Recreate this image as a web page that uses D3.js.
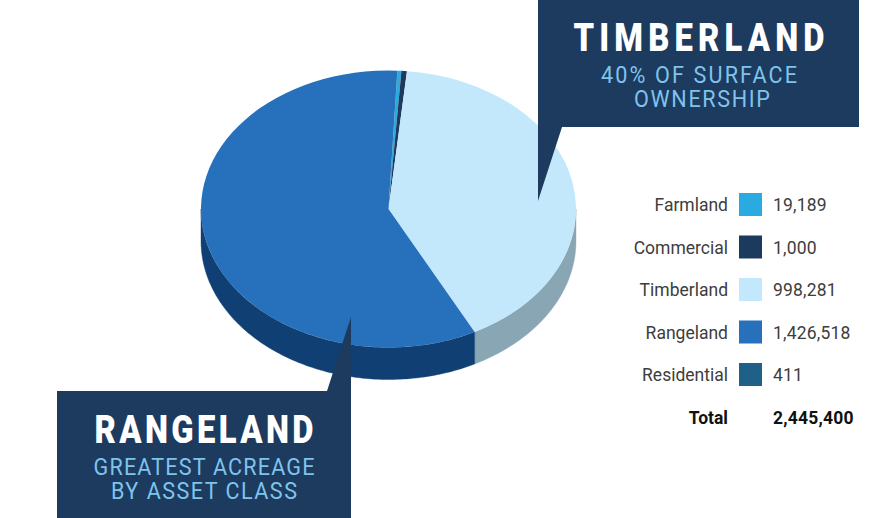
<!DOCTYPE html>
<html><head><meta charset="utf-8">
<script src="https://cdn.jsdelivr.net/npm/d3@7/dist/d3.min.js"></script>
<style>html,body{margin:0;padding:0;background:#fff}svg{display:block}text{font-family:Roboto,sans-serif}</style>
</head><body><svg id="c" width="883" height="518"></svg>
<script>
const categories=["Farmland","Commercial","Timberland","Rangeland","Residential"];
const valueLabels=["19,189","1,000","998,281","1,426,518","411"];
// slice sizes as drawn in the picture (the two smallest slices are not drawn to the legend's scale)
const drawnValues=[8150,11500,998281,1426518,411];
const topColors=["#29abe2","#1c3a5e","#c3e8fb","#2670bc","#1f6088"];
const wallColors=["#1c7ba6","#142a45","#89a6b5","#0f3f73","#16465f"];
const totalLabel="Total", totalValue="2,445,400";

const W=883,H=518,cx=388.5,cy=209,rx=187.5,ry=138.5,depth=32;
const NAVY="#1d3a5f",SKY="#7fc4ec";
const svg=d3.select("#c");
const start=2.76*Math.PI/180;
const arcs=d3.pie().sort(null).value(d=>d.v).startAngle(start).endAngle(start+2*Math.PI)
  (categories.map((c,i)=>({c,v:drawnValues[i],i})));

// side wall: visible only on the lower half of the ellipse
const px=a=>cx+rx*Math.sin(a), py=a=>cy-ry*Math.cos(a);
const wall=svg.append("g");
arcs.forEach(s=>{
  const a0=Math.max(s.startAngle,Math.PI/2),a1=Math.min(s.endAngle,3*Math.PI/2);
  if(a1<=a0) return;
  const n=Math.max(2,Math.ceil((a1-a0)*60));
  const pts=d3.range(n+1).map(k=>a0+(a1-a0)*k/n);
  const top=pts.map(a=>[px(a),py(a)]);
  const bot=pts.slice().reverse().map(a=>[px(a),py(a)+depth]);
  wall.append("path").attr("d",d3.line()(top.concat(bot))+"Z")
    .attr("fill",wallColors[s.data.i]).attr("stroke",wallColors[s.data.i]).attr("stroke-width",.4);
});
// top face
const arc=d3.arc().innerRadius(0).outerRadius(rx);
svg.append("g").attr("transform",`translate(${cx},${cy}) scale(1,${ry/rx})`)
  .selectAll("path").data(arcs).join("path")
  .attr("d",arc).attr("fill",d=>topColors[d.data.i]);

// callouts
svg.append("path").attr("fill",NAVY).attr("d","M538,0H859V127H562L538,201Z");
svg.append("path").attr("fill",NAVY).attr("d","M57,391H327L351,317V518H57Z");
// condensed look: narrow the glyphs horizontally, then spread them to the reference width
const label=(t,x,y,w,size,weight,fill,sx)=>svg.append("text").text(t)
  .attr("transform",`translate(${x},${y}) scale(${sx},1)`).attr("text-anchor","middle")
  .attr("fill",fill).attr("font-size",size).attr("font-weight",weight)
  .attr("textLength",w/sx).attr("lengthAdjust","spacing");
const head=(t,x,y,w)=>label(t,x,y,w,39,900,"#fff",.84);
const sub=(t,x,y,w)=>label(t,x,y,w,24,400,SKY,.9);
head("TIMBERLAND",699,51,251);
sub("40% OF SURFACE",699,83,196);
sub("OWNERSHIP",702,107,136);
head("RANGELAND",204,443,219);
sub("GREATEST ACREAGE",204,475,221);
sub("BY ASSET CLASS",204,499,186);

// legend table
const rows=d3.scalePoint().domain(d3.range(categories.length+1)).range([204.5,417]);
const lg=svg.append("g").attr("font-size",17.5);
categories.forEach((c,i)=>{
  const y=rows(i);
  lg.append("text").text(c).attr("x",728).attr("y",y+6.5).attr("text-anchor","end").attr("fill","#3d3d3d");
  lg.append("rect").attr("x",739).attr("y",y-11.5).attr("width",23).attr("height",23).attr("fill",topColors[i]);
  lg.append("text").text(valueLabels[i]).attr("x",773).attr("y",y+6.5).attr("fill","#3d3d3d").attr("letter-spacing",.2);
});
const ty=rows(categories.length);
lg.append("text").text(totalLabel).attr("x",728).attr("y",ty+6.5).attr("text-anchor","end").attr("fill","#111").attr("font-weight",700);
lg.append("text").text(totalValue).attr("x",773).attr("y",ty+6.5).attr("fill","#111").attr("font-weight",700).attr("letter-spacing",.2);
</script></body></html>
